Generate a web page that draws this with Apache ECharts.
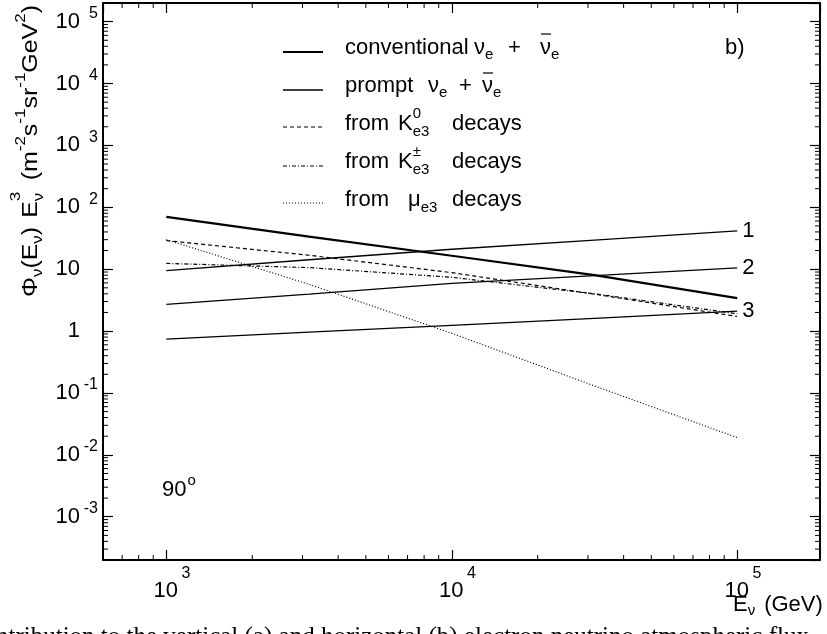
<!DOCTYPE html>
<html><head><meta charset="utf-8">
<script src="https://cdn.jsdelivr.net/npm/echarts@6/dist/echarts.min.js"></script>
<style>html,body{margin:0;padding:0;background:#fff;overflow:hidden}#c{width:827px;height:634px}</style>
</head><body><div id="c"></div>
<script>
// ---- data ----
const energies = [1000, 3162, 10000, 31623, 100000];           // GeV
const conventional = [70, 33.5, 16.5, 8.0, 3.4];
const prompt1 = [9.5, 14.2, 21, 29.5, 41.5];
const prompt2 = [2.7, 3.95, 5.9, 7.85, 10.5];
const prompt3 = [0.74, 0.96, 1.24, 1.6, 2.1];
const kaon0 = [29, 16.8, 8.8, 3.95, 1.72];
const kaonPm = [12.4, 10.6, 7.4, 4.0, 1.9];
const muon = [30, 5.7, 0.92, 0.13, 0.019];
const promptLabels = ['1', '2', '3'];
const xRange = [600, 195000];
const yRange = [2e-4, 2e5];
const minorSteps = [2, 3, 4, 5, 6, 7, 8, 9];
const xDecades = [100, 1000, 10000, 100000];
const yDecades = [1e-4, 1e-3, 1e-2, 1e-1, 1, 10, 100, 1e3, 1e4, 1e5];

const FONT = '"Liberation Sans", Arial, Helvetica, sans-serif';
const mctx = document.createElement('canvas').getContext('2d');
function tw(t, fs) { mctx.font = fs + 'px ' + FONT; return mctx.measureText(t).width; }
function txt(x, y, t, fs) {
  return { type: 'text', x: x, y: y, silent: true,
    style: { text: t, font: fs + 'px ' + FONT, fill: '#000',
      textAlign: 'left', textVerticalAlign: 'middle', align: 'left', verticalAlign: 'middle' } };
}
function flow(x0, y0, parts) {
  const out = []; let x = x0, lastStart = x0;
  parts.forEach(p => {
    const fs = p.fs || 22;
    let sx;
    if (p.x != null) sx = p.x;
    else if (p.stack) sx = lastStart;
    else sx = x + (p.gap || 0);
    out.push(txt(sx, y0 + (p.dy || 0), p.t, fs));
    const end = sx + tw(p.t, fs);
    if (p.over != null) out.push({ type: 'line', silent: true,
      shape: { x1: sx + 1, y1: y0 + p.over, x2: end, y2: y0 + p.over },
      style: { stroke: '#000', lineWidth: 1.2 } });
    if (!p.stack) lastStart = sx;
    x = p.stack ? Math.max(x, end) : end;
  });
  out.totalEnd = x;
  return out;
}

function pts(arr) { return energies.map((e, i) => [e, arr[i]]); }

const minorData = [];
xDecades.forEach(d => minorSteps.forEach(m => { const v = d * m; if (v > xRange[0] && v < xRange[1]) minorData.push([v, 1, 0]); }));
yDecades.forEach(d => minorSteps.forEach(m => { const v = d * m; if (v > yRange[0] && v < yRange[1]) minorData.push([1000, v, 1]); }));

function expOf(v) { const n = Math.log10(v); const r = Math.round(n); return Math.abs(n - r) < 0.01 ? r : null; }

const baseAxisLine = { show: true, onZero: false, lineStyle: { color: '#000', width: 2 } };
const baseTick = { show: true, inside: true, length: 10, lineStyle: { color: '#000', width: 1.2 } };

const xLabel = {
  show: true, margin: 6, showMinLabel: false, showMaxLabel: false,
  formatter: v => { const n = expOf(v); return n === null ? '' : '{p| }{b|10}{e|' + n + '}'; },
  rich: {
    p: { width: 14, fontSize: 16, fontFamily: FONT },
    b: { fontSize: 22, fontFamily: FONT, color: '#000' },
    e: { fontSize: 16, fontFamily: FONT, color: '#000', width: 14, align: 'left', padding: [0, 0, 33, 1] }
  }
};
const yLabel = {
  show: true, margin: 5, showMinLabel: false, showMaxLabel: false,
  formatter: v => {
    const n = expOf(v); if (n === null) return '';
    if (n === 0) return '{b|1}{e| }';
    if (n === 1) return '{b|10}{e| }';
    return '{b|10}{e|' + n + '}';
  },
  rich: {
    b: { fontSize: 22, fontFamily: FONT, color: '#000' },
    e: { fontSize: 16, fontFamily: FONT, color: '#000', width: 18, align: 'right', padding: [0, 0, 16, 0] }
  }
};

// ---- graphic texts ----
const g = [];
// legend samples
const legendRows = [
  { y: 52, w: 2.2, dash: null },
  { y: 90, w: 1.3, dash: null },
  { y: 127, w: 1.2, dash: [4, 3] },
  { y: 166, w: 1.2, dash: [4, 2, 1, 2] },
  { y: 203, w: 1.2, dash: [1, 2] }
];
legendRows.forEach(r => g.push({ type: 'line', silent: true,
  shape: { x1: 283, y1: r.y, x2: 323, y2: r.y },
  style: { stroke: '#000', lineWidth: r.w, lineDash: r.dash } }));
g.push(...flow(345, 48, [{ t: 'conventional' }, { t: 'ν', x: 474 }, { t: 'e', fs: 15, dy: 7 },
  { t: '+', x: 508 }, { t: 'ν', x: 540, over: -14 }, { t: 'e', fs: 15, dy: 7 }]));
g.push(...flow(345, 86, [{ t: 'prompt' }, { t: 'ν', x: 428 }, { t: 'e', fs: 15, dy: 7 },
  { t: '+', x: 459 }, { t: 'ν', x: 482, over: -13 }, { t: 'e', fs: 15, dy: 7 }]));
g.push(...flow(345, 124, [{ t: 'from' }, { t: 'K', x: 398 }, { t: '0', fs: 15, dy: -10 },
  { t: 'e3', fs: 15, dy: 8, stack: true }, { t: 'decays', x: 452 }]));
g.push(...flow(345, 162, [{ t: 'from' }, { t: 'K', x: 398 }, { t: '±', fs: 15, dy: -10 },
  { t: 'e3', fs: 15, dy: 8, stack: true }, { t: 'decays', x: 452 }]));
g.push(...flow(345, 200, [{ t: 'from' }, { t: 'μ', x: 408 }, { t: 'e3', fs: 15, dy: 8 }, { t: 'decays', x: 452 }]));
// panel letter and angle
g.push(txt(725, 48, 'b)', 22));
g.push(...flow(162, 490, [{ t: '90' }, { t: 'o', fs: 15, dy: -9, gap: 1 }]));
// x-axis title
g.push(...flow(733, 605, [{ t: 'E' }, { t: 'ν', fs: 15, dy: 6 }, { t: '(GeV)', gap: 9 }]));
// y-axis title (rotated)
const yt = flow(0, 0, [{ t: 'Φ' }, { t: 'ν', fs: 15, dy: 7 }, { t: '(E' }, { t: 'ν', fs: 15, dy: 7 }, { t: ')' },
  { t: 'E', gap: 8 }, { t: 'ν', fs: 15, dy: 8 }, { t: '3', fs: 15, dy: -15, stack: true },
  { t: '(m', gap: 10 }, { t: '-2', fs: 15, dy: -10 }, { t: 's' }, { t: '-1', fs: 15, dy: -10 },
  { t: 'sr' }, { t: '-1', fs: 15, dy: -10 }, { t: 'GeV' }, { t: '2', fs: 15, dy: -10 }, { t: ')' }]);
const ySpan = 292;
g.push({ type: 'group', x: 31, y: 297, rotation: Math.PI / 2, scaleX: ySpan / yt.totalEnd, children: yt.slice() });
// cut-off caption line at the bottom of the page
g.push({ type: 'text', x: -4, y: 625, silent: true,
  style: { text: 'ntribution to the vertical (a) and horizontal (b) electron neutrino atmospheric flux',
    font: '25px "Liberation Serif", "DejaVu Serif", serif', fill: '#000', textAlign: 'left', textVerticalAlign: 'top', align: 'left', verticalAlign: 'top' } });

function lineSeries(name, arr, width, type, label) {
  const s = { name: name, type: 'line', data: pts(arr), symbol: 'none', smooth: false,
    xAxisIndex: 0, yAxisIndex: 0, silent: true,
    lineStyle: { color: '#000', width: width, type: type } };
  if (label) s.endLabel = { show: true, formatter: label, distance: 5, fontSize: 22, fontFamily: FONT, color: '#000' };
  return s;
}

const option = {
  animation: false,
  backgroundColor: '#fff',
  grid: { left: 103, right: 7, top: 3, bottom: 74, containLabel: false, outerBoundsMode: 'none' },
  xAxis: [
    { type: 'log', logBase: 10, min: xRange[0], max: xRange[1], position: 'bottom',
      axisLine: baseAxisLine, axisTick: baseTick, axisLabel: xLabel, splitLine: { show: false } },
    { type: 'log', logBase: 10, min: xRange[0], max: xRange[1], position: 'top',
      axisLine: baseAxisLine, axisTick: baseTick, axisLabel: { show: false }, splitLine: { show: false } }
  ],
  yAxis: [
    { type: 'log', logBase: 10, min: yRange[0], max: yRange[1], position: 'left',
      axisLine: baseAxisLine, axisTick: baseTick, axisLabel: yLabel, splitLine: { show: false } },
    { type: 'log', logBase: 10, min: yRange[0], max: yRange[1], position: 'right',
      axisLine: baseAxisLine, axisTick: baseTick, axisLabel: { show: false }, splitLine: { show: false } }
  ],
  series: [
    lineSeries('conventional νe + anti-νe', conventional, 2.2, 'solid'),
    lineSeries('prompt 1', prompt1, 1.3, 'solid', promptLabels[0]),
    lineSeries('prompt 2', prompt2, 1.3, 'solid', promptLabels[1]),
    lineSeries('prompt 3', prompt3, 1.3, 'solid', promptLabels[2]),
    lineSeries('from K0 e3 decays', kaon0, 1.2, [4, 3]),
    lineSeries('from K± e3 decays', kaonPm, 1.2, [4, 2, 1, 2]),
    lineSeries('from μ e3 decays', muon, 1.2, [1, 2]),
    { type: 'custom', name: 'minor ticks', silent: true, clip: false, z: 5,
      xAxisIndex: 0, yAxisIndex: 0, data: minorData,
      renderItem: (params, api) => {
        const cs = params.coordSys;
        const kind = api.value(2);
        const st = { stroke: '#000', lineWidth: 1 };
        if (kind === 0) {
          const x = api.coord([api.value(0), 1])[0];
          return { type: 'group', children: [
            { type: 'line', shape: { x1: x, y1: cs.y + cs.height, x2: x, y2: cs.y + cs.height - 5 }, style: st },
            { type: 'line', shape: { x1: x, y1: cs.y, x2: x, y2: cs.y + 5 }, style: st }] };
        }
        const y = api.coord([1000, api.value(1)])[1];
        return { type: 'group', children: [
          { type: 'line', shape: { x1: cs.x, y1: y, x2: cs.x + 5, y2: y }, style: st },
          { type: 'line', shape: { x1: cs.x + cs.width, y1: y, x2: cs.x + cs.width - 5, y2: y }, style: st }] };
      } }
  ],
  graphic: g
};
const chart = echarts.init(document.getElementById('c'), null, { renderer: 'canvas' });
chart.setOption(option);
</script></body></html>
